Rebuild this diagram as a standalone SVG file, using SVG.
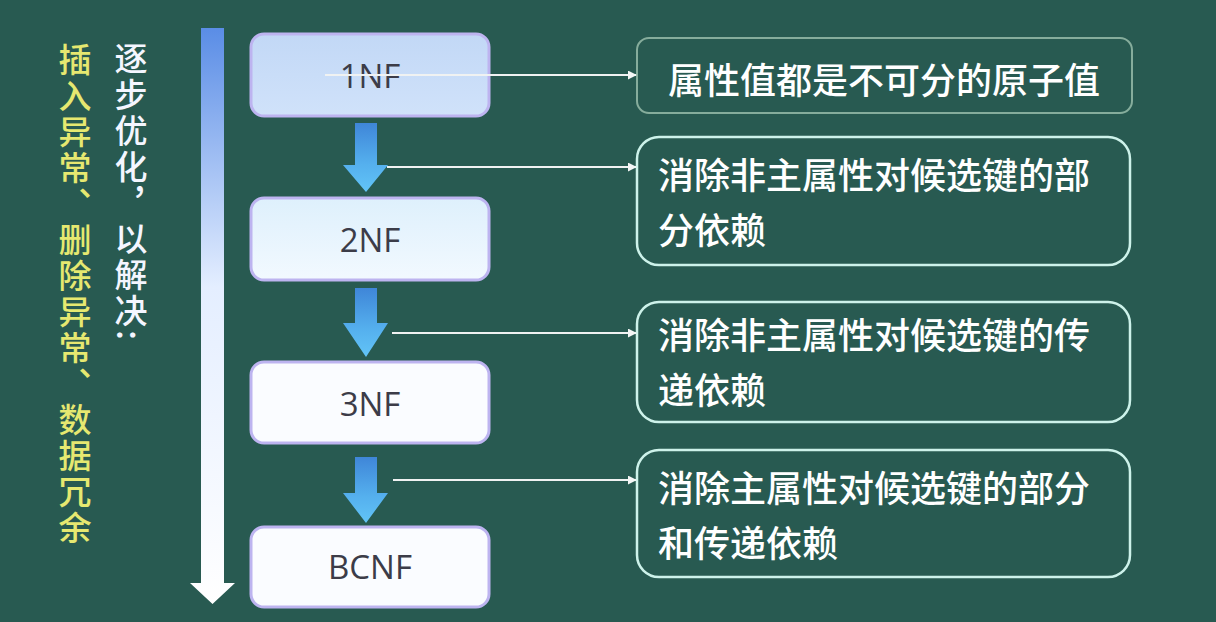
<svg xmlns="http://www.w3.org/2000/svg" width="1216" height="622" viewBox="0 0 1216 622">
<defs>
<linearGradient id="bigArrow" x1="0" y1="28" x2="0" y2="603" gradientUnits="userSpaceOnUse">
<stop offset="0" stop-color="#5a8de6"/>
<stop offset="0.45" stop-color="#e4eeff"/>
<stop offset="1" stop-color="#ffffff"/>
</linearGradient>
<linearGradient id="downArrow" x1="0" y1="0" x2="0" y2="1">
<stop offset="0" stop-color="#3f86d8"/>
<stop offset="0.6" stop-color="#55b0ee"/>
<stop offset="1" stop-color="#62c4f7"/>
</linearGradient>
<linearGradient id="fill1" x1="0" y1="0" x2="0" y2="1">
<stop offset="0" stop-color="#c2d8f6"/>
<stop offset="1" stop-color="#d0e2fa"/>
</linearGradient>
<linearGradient id="fill2" x1="0" y1="0" x2="0" y2="1">
<stop offset="0" stop-color="#def0fc"/>
<stop offset="1" stop-color="#f2f9ff"/>
</linearGradient>
<marker id="arr" viewBox="0 0 10 10" refX="9" refY="5" markerWidth="9" markerHeight="9" markerUnits="userSpaceOnUse" orient="auto">
<path d="M0,0 L10,5 L0,10 Z" fill="#f4f6f6"/>
</marker>
<style>
.nf { stroke: #bdb4f0; stroke-width: 3; }
.nft { font-family: "Open Sans", "Noto Sans", sans-serif; font-size: 33px; fill: #3c3c48; text-anchor: middle; }
.desc { fill: none; stroke: #cdf2ea; stroke-width: 2.5; }
.desc1 { fill: none; stroke: #86ad9c; stroke-width: 2; }
.dt { font-family: "Noto Sans CJK SC", sans-serif; font-size: 36px; font-weight: 500; fill: #ffffff; }
.vt { font-family: "Noto Sans CJK SC", sans-serif; font-size: 33px; font-weight: 500; writing-mode: vertical-rl; letter-spacing: 3px; }
.conn { stroke: #f0f2f2; stroke-width: 2; fill: none; marker-end: url(#arr); }
.down { fill: url(#downArrow); }
</style>
</defs>
<rect width="1216" height="622" fill="#285a51"/>

<g id="side-text">
<text class="vt" x="75" y="43" fill="#e6e870">插入异常、删除异常、数据冗余</text>
<text class="vt" x="131" y="42" fill="#f4f6ff">逐步优化，以解决:</text>
</g>

<g id="big-arrow">
<path d="M201,28 H224 V583 H235 L212.5,604 L190,583 H201 Z" fill="url(#bigArrow)"/>
</g>

<g id="node-1nf">
<rect class="nf" x="251" y="34" width="238" height="82" rx="13" fill="url(#fill1)"/>
<text class="nft" x="370" y="88">1NF</text>
</g>
<g id="node-2nf">
<rect class="nf" x="251" y="198" width="238" height="82" rx="13" fill="url(#fill2)"/>
<text class="nft" x="370" y="252">2NF</text>
</g>
<g id="node-3nf">
<rect class="nf" x="251" y="362" width="238" height="81" rx="13" fill="#fafcff"/>
<text class="nft" x="370" y="416">3NF</text>
</g>
<g id="node-bcnf">
<rect class="nf" x="251" y="527" width="238" height="80" rx="13" fill="#fafcff"/>
<text class="nft" x="370" y="579">BCNF</text>
</g>

<g id="step-arrows">
<path class="down" d="M355,123 H377 V165 H388 L366,192 L343,165 H355 Z"/>
<path class="down" d="M355,288 H377 V323 H388 L366,357 L343,323 H355 Z"/>
<path class="down" d="M355,457 H377 V493 H388 L366,523 L343,493 H355 Z"/>
</g>

<g id="desc-1">
<rect class="desc1" x="637" y="38" width="495" height="75" rx="12"/>
<text class="dt" x="668" y="94">属性值都是不可分的原子值</text>
</g>
<g id="desc-2">
<rect class="desc" x="637" y="137" width="493" height="128" rx="22"/>
<text class="dt" x="658" y="189">消除非主属性对候选键的部</text>
<text class="dt" x="658" y="244">分依赖</text>
</g>
<g id="desc-3">
<rect class="desc" x="637" y="302" width="493" height="120" rx="22"/>
<text class="dt" x="658" y="349">消除非主属性对候选键的传</text>
<text class="dt" x="658" y="404">递依赖</text>
</g>
<g id="desc-4">
<rect class="desc" x="637" y="450" width="493" height="127" rx="22"/>
<text class="dt" x="658" y="502">消除主属性对候选键的部分</text>
<text class="dt" x="658" y="557">和传递依赖</text>
</g>

<g id="connectors">
<line class="conn" x1="325" y1="75" x2="636" y2="75"/>
<line class="conn" x1="387" y1="167" x2="636" y2="167"/>
<line class="conn" x1="392" y1="333" x2="636" y2="333"/>
<line class="conn" x1="393" y1="480" x2="636" y2="480"/>
</g>
</svg>
